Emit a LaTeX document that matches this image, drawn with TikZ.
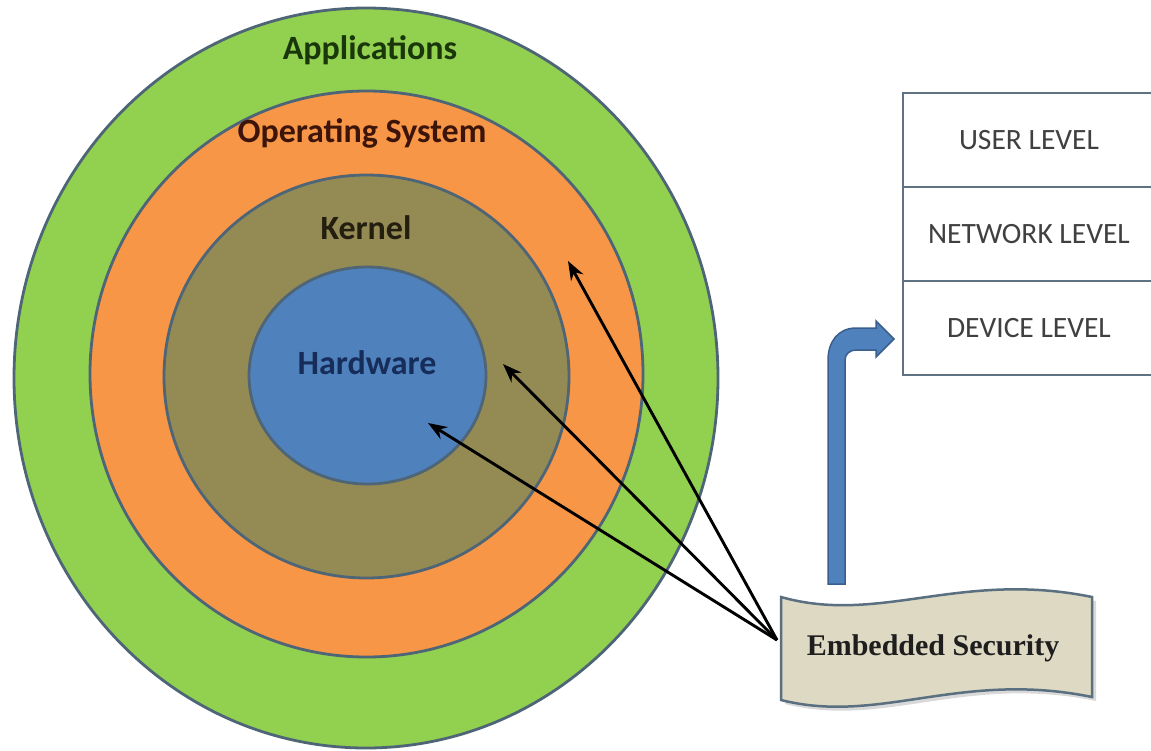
\documentclass[tikz,border=0pt]{standalone}
\usepackage{fontspec}
\setmainfont{Carlito}
\newfontfamily\serifb{Liberation Serif}
\usetikzlibrary{arrows.meta}
\definecolor{appgreen}{HTML}{92D050}
\definecolor{osorange}{HTML}{F79646}
\definecolor{kernolive}{HTML}{948A54}
\definecolor{hwblue}{HTML}{4F81BD}
\definecolor{ringline}{HTML}{4E6577}
\definecolor{bannerfill}{HTML}{DDD9C3}
\definecolor{bannerline}{HTML}{5A7080}
\definecolor{arrowblue}{HTML}{4F81BD}
\definecolor{arrowline}{HTML}{3A5F8E}
\definecolor{tabline}{HTML}{5F7384}
\definecolor{tabtext}{HTML}{404040}
\tikzset{
  ring/.style={draw=ringline, line width=2.8pt},
  ringlabel/.style={font=\bfseries\fontsize{34}{36}\selectfont, inner sep=0pt},
  cell/.style={draw=tabline, line width=2.5pt, fill=white, minimum width=252pt, minimum height=94pt, inner sep=0pt, font=\fontsize{29.5}{31}\selectfont, text=tabtext},
  pointer/.style={line width=2.9pt, -{Stealth[length=19pt,width=14pt]}},
}
\begin{document}
\begin{tikzpicture}[x=1pt,y=-1pt]
\useasboundingbox (0,0) rectangle (1151,750);
\clip (0,0) rectangle (1151,750);
% rings
\draw[ring, fill=appgreen] (366,378) ellipse [x radius=352, y radius=370];
\draw[ring, fill=osorange] (366.5,374) ellipse [x radius=276.5, y radius=283];
\draw[ring, fill=kernolive] (366.5,376.5) ellipse [x radius=202.5, y radius=201.5];
\draw[ring, fill=hwblue] (367.5,375.5) ellipse [x radius=118.5, y radius=108.5];
\node[ringlabel, text={rgb,255:red,25;green,55;blue,10}] (app) at (370,50) {Applications};
\node[ringlabel, text={rgb,255:red,60;green,20;blue,10}] (os) at (362,133) {Operating System};
\node[ringlabel, text={rgb,255:red,35;green,30;blue,15}] (kern) at (366,228) {Kernel};
\node[ringlabel, text={rgb,255:red,22;green,45;blue,90}] (hw) at (367,363) {Hardware};
% table
\node[cell] (user) at (1029,140) {USER LEVEL};
\node[cell] (net) at (1029,234) {NETWORK LEVEL};
\node[cell] (dev) at (1029,328) {DEVICE LEVEL};
% banner
\fill[gray!30] (785,601) .. controls (884,629) and (964,574) .. (1096,601) -- (1096,701) .. controls (964,674) and (884,729) .. (785,704) -- cycle;
\draw[fill=bannerfill, draw=bannerline, line width=2.5pt] (781,597) .. controls (880,625) and (960,570) .. (1092,597) -- (1092,697) .. controls (960,670) and (880,725) .. (781,700) -- cycle;
\node[font=\serifb\bfseries\fontsize{30}{32}\selectfont, text={rgb,255:red,30;green,30;blue,30}, inner sep=0pt] (es) at (933,648) {Embedded Security};
% blue bent arrow
\draw[fill=arrowblue, draw=arrowline, line width=1.5pt] (828,584) -- (828,360) .. controls (828,342) and (838,328) .. (856,328) -- (876,328) -- (876,321) -- (894,339) -- (876,357) -- (876,350) -- (856,350) .. controls (850,350) and (845,354) .. (845,360) -- (845,584) -- cycle;
% pointers
\coordinate (src) at (777,640);
\coordinate (tos) at (568,261);
\coordinate (tker) at (503,364);
\coordinate (thw) at (428,423);
\draw[pointer] (src) -- (tos);
\draw[pointer] (src) -- (tker);
\draw[pointer] (src) -- (thw);
\end{tikzpicture}
\end{document}
